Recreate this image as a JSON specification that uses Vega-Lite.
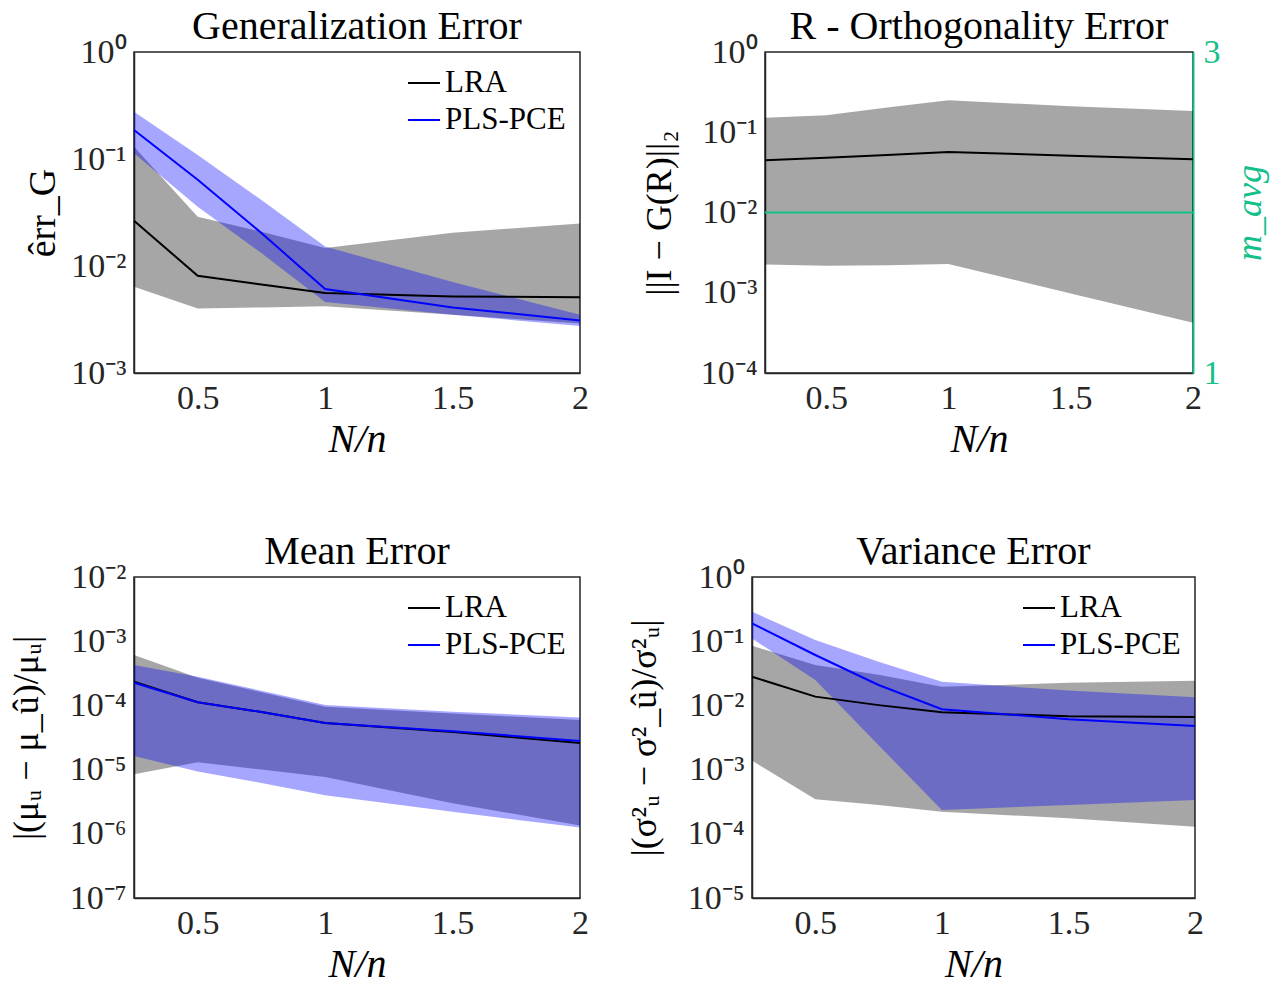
{
  "$schema": "https://vega.github.io/schema/vega-lite/v6.json",
  "background": "white",
  "padding": {"left": 7, "top": 6, "right": 5, "bottom": 0},
  "config": {
    "font": "Liberation Serif",
    "view": {"stroke": "#262626", "strokeWidth": 1.5},
    "axis": {
      "grid": false,
      "labelFont": "Liberation Serif",
      "titleFont": "Liberation Serif",
      "labelFontSize": 34,
      "titleFontSize": 36,
      "titleFontWeight": "normal",
      "labelColor": "#262626",
      "titleColor": "#000000",
      "domainColor": "#262626",
      "domainWidth": 1.5,
      "tickColor": "#262626",
      "tickSize": 0,
      "labelPadding": 8,
      "labelFlush": false,
      "labelOverlap": false
    },
    "axisX": {"titlePadding": 4, "titleFontSize": 40},
    "axisY": {"titlePadding": 8},
    "title": {"font": "Liberation Serif", "fontSize": 40, "fontWeight": "normal", "color": "#000000", "offset": -12, "anchor": "middle"},
    "legend": {
      "labelFont": "Liberation Serif",
      "labelFontSize": 31,
      "labelColor": "#000000",
      "symbolType": "stroke",
      "symbolStrokeWidth": 2,
      "symbolSize": 1024,
      "labelOffset": 4,
      "rowPadding": 5
    }
  },
  "datasets": {
    "gen": [
      {"x": 0.25, "method": "LRA", "lo": 0.0064, "mid": 0.0265, "hi": 0.130},
      {"x": 0.5, "method": "LRA", "lo": 0.0040, "mid": 0.0081, "hi": 0.0289},
      {"x": 0.75, "method": "LRA", "lo": 0.0041, "mid": 0.0067, "hi": 0.0209},
      {"x": 1, "method": "LRA", "lo": 0.0042, "mid": 0.0056, "hi": 0.0147},
      {"x": 1.5, "method": "LRA", "lo": 0.0035, "mid": 0.0052, "hi": 0.0204},
      {"x": 2, "method": "LRA", "lo": 0.0029, "mid": 0.0051, "hi": 0.025},
      {"x": 0.25, "method": "PLS-PCE", "lo": 0.113, "mid": 0.187, "hi": 0.277},
      {"x": 0.5, "method": "PLS-PCE", "lo": 0.0358, "mid": 0.064, "hi": 0.109},
      {"x": 0.75, "method": "PLS-PCE", "lo": 0.0132, "mid": 0.0203, "hi": 0.0414},
      {"x": 1, "method": "PLS-PCE", "lo": 0.0046, "mid": 0.0061, "hi": 0.0152},
      {"x": 1.5, "method": "PLS-PCE", "lo": 0.0035, "mid": 0.0041, "hi": 0.0071},
      {"x": 2, "method": "PLS-PCE", "lo": 0.00275, "mid": 0.0031, "hi": 0.0035}
    ],
    "orth": [
      {"x": 0.25, "method": "LRA", "lo": 0.00225, "mid": 0.0448, "hi": 0.152, "m": 2},
      {"x": 0.5, "method": "LRA", "lo": 0.00217, "mid": 0.048, "hi": 0.163, "m": 2},
      {"x": 0.75, "method": "LRA", "lo": 0.0022, "mid": 0.052, "hi": 0.203, "m": 2},
      {"x": 1, "method": "LRA", "lo": 0.00228, "mid": 0.0569, "hi": 0.25, "m": 2},
      {"x": 1.5, "method": "LRA", "lo": 0.00098, "mid": 0.051, "hi": 0.211, "m": 2},
      {"x": 2, "method": "LRA", "lo": 0.000423, "mid": 0.046, "hi": 0.184, "m": 2}
    ],
    "mean": [
      {"x": 0.25, "method": "LRA", "lo": 0.0000085, "mid": 0.000234, "hi": 0.00061},
      {"x": 0.5, "method": "LRA", "lo": 0.000013, "mid": 0.000112, "hi": 0.00027},
      {"x": 0.75, "method": "LRA", "lo": 0.00001, "mid": 0.000079, "hi": 0.00016},
      {"x": 1, "method": "LRA", "lo": 0.0000077, "mid": 0.000053, "hi": 0.000095},
      {"x": 1.5, "method": "LRA", "lo": 0.000003, "mid": 0.0000385, "hi": 0.000075},
      {"x": 2, "method": "LRA", "lo": 0.00000135, "mid": 0.000026, "hi": 0.000059},
      {"x": 0.25, "method": "PLS-PCE", "lo": 0.0000163, "mid": 0.000225, "hi": 0.000426},
      {"x": 0.5, "method": "PLS-PCE", "lo": 0.0000093, "mid": 0.000112, "hi": 0.00028},
      {"x": 0.75, "method": "PLS-PCE", "lo": 0.0000062, "mid": 0.000079, "hi": 0.000169},
      {"x": 1, "method": "PLS-PCE", "lo": 0.000004, "mid": 0.000053, "hi": 0.000101},
      {"x": 1.5, "method": "PLS-PCE", "lo": 0.0000022, "mid": 0.0000395, "hi": 0.0000797},
      {"x": 2, "method": "PLS-PCE", "lo": 0.00000125, "mid": 0.000028, "hi": 0.000065}
    ],
    "var": [
      {"x": 0.25, "method": "LRA", "lo": 0.00138, "mid": 0.028, "hi": 0.085},
      {"x": 0.5, "method": "LRA", "lo": 0.000344, "mid": 0.0137, "hi": 0.0426},
      {"x": 0.75, "method": "LRA", "lo": 0.00028, "mid": 0.0101, "hi": 0.03},
      {"x": 1, "method": "LRA", "lo": 0.00022, "mid": 0.0078, "hi": 0.0195},
      {"x": 1.5, "method": "LRA", "lo": 0.000175, "mid": 0.0068, "hi": 0.0225},
      {"x": 2, "method": "LRA", "lo": 0.000129, "mid": 0.0066, "hi": 0.0243},
      {"x": 0.25, "method": "PLS-PCE", "lo": 0.11, "mid": 0.19, "hi": 0.288},
      {"x": 0.5, "method": "PLS-PCE", "lo": 0.0249, "mid": 0.061, "hi": 0.104},
      {"x": 0.75, "method": "PLS-PCE", "lo": 0.0024, "mid": 0.0208, "hi": 0.048},
      {"x": 1, "method": "PLS-PCE", "lo": 0.000235, "mid": 0.0087, "hi": 0.0234},
      {"x": 1.5, "method": "PLS-PCE", "lo": 0.00028, "mid": 0.0061, "hi": 0.017},
      {"x": 2, "method": "PLS-PCE", "lo": 0.000336, "mid": 0.00478, "hi": 0.0134}
    ]
  },
  "bounds": "flush",
  "spacing": 525,
  "resolve": {"scale": {"color": "independent"}, "legend": {"color": "independent"}},
  "vconcat": [
    {
      "bounds": "flush",
      "spacing": 185,
      "resolve": {"scale": {"color": "independent"}, "legend": {"color": "independent"}},
      "hconcat": [
        {
          "width": 446, "height": 321,
          "title": "Generalization Error",
          "data": {"name": "gen"},
          "encoding": {
            "x": {"field": "x", "type": "quantitative", "scale": {"domain": [0.25, 2], "nice": false, "zero": false},
                  "axis": {"values": [0.5, 1, 1.5, 2], "format": "~g", "title": "N/n", "titleFontStyle": "italic"}}
          },
          "layer": [
            {
              "mark": {"type": "area", "fillOpacity": 0.35, "strokeWidth": 0},
              "encoding": {
                "y": {"field": "lo", "type": "quantitative", "scale": {"type": "log", "domain": [0.001, 1], "nice": false},
                      "axis": {"values": [1, 0.1, 0.01, 0.001], "labelExpr": "'10' + ['⁰','⁻¹','⁻²','⁻³','⁻⁴','⁻⁵','⁻⁶','⁻⁷'][-round(log(datum.value)/LN10)]", "title": "êrr_G", "titleFontSize": 38}},
                "y2": {"field": "hi"},
                "detail": {"field": "method"},
                "fill": {"condition": {"test": "datum.method === 'LRA'", "value": "#000000"}, "value": "#0000ff"}
              }
            },
            {
              "mark": {"type": "line", "strokeWidth": 2},
              "encoding": {
                "y": {"field": "mid", "type": "quantitative"},
                "color": {"field": "method", "type": "nominal", "scale": {"domain": ["LRA", "PLS-PCE"], "range": ["#000000", "#0000ff"]},
                          "legend": {"title": null, "orient": "top-right", "offset": 14}}
              }
            }
          ]
        },
        {
          "width": 428, "height": 321,
          "title": "R - Orthogonality Error",
          "data": {"name": "orth"},
          "encoding": {
            "x": {"field": "x", "type": "quantitative", "scale": {"domain": [0.25, 2], "nice": false, "zero": false},
                  "axis": {"values": [0.5, 1, 1.5, 2], "format": "~g", "title": "N/n", "titleFontStyle": "italic"}}
          },
          "layer": [
            {
              "layer": [
                {
                  "mark": {"type": "area", "fillOpacity": 0.35, "strokeWidth": 0, "color": "#000000"},
                  "encoding": {
                    "y": {"field": "lo", "type": "quantitative", "scale": {"type": "log", "domain": [0.0001, 1], "nice": false},
                          "axis": {"values": [1, 0.1, 0.01, 0.001, 0.0001], "labelExpr": "'10' + ['⁰','⁻¹','⁻²','⁻³','⁻⁴','⁻⁵','⁻⁶','⁻⁷'][-round(log(datum.value)/LN10)]", "title": "||I − G(R)||₂", "titlePadding": 22}},
                    "y2": {"field": "hi"}
                  }
                },
                {
                  "mark": {"type": "line", "strokeWidth": 2, "color": "#000000"},
                  "encoding": {"y": {"field": "mid", "type": "quantitative"}}
                }
              ]
            },
            {
              "mark": {"type": "line", "strokeWidth": 2, "color": "#14c08a"},
              "encoding": {
                "y": {"field": "m", "type": "quantitative", "scale": {"domain": [1, 3], "nice": false, "zero": false},
                      "axis": {"orient": "right", "values": [1, 2, 3], "format": "d", "title": "m_avg", "titleFontStyle": "italic", "titleAngle": 270,
                               "labelPadding": 10, "titlePadding": 48,
                               "labelColor": "#14c08a", "titleColor": "#14c08a", "domainColor": "#14c08a", "tickColor": "#14c08a", "domainWidth": 2}}
              }
            }
          ],
          "resolve": {"scale": {"y": "independent"}, "axis": {"y": "independent"}}
        }
      ]
    },
    {
      "bounds": "flush",
      "spacing": 172,
      "resolve": {"scale": {"color": "independent"}, "legend": {"color": "independent"}},
      "hconcat": [
        {
          "width": 446, "height": 321,
          "title": "Mean Error",
          "data": {"name": "mean"},
          "encoding": {
            "x": {"field": "x", "type": "quantitative", "scale": {"domain": [0.25, 2], "nice": false, "zero": false},
                  "axis": {"values": [0.5, 1, 1.5, 2], "format": "~g", "title": "N/n", "titleFontStyle": "italic"}}
          },
          "layer": [
            {
              "mark": {"type": "area", "fillOpacity": 0.35, "strokeWidth": 0},
              "encoding": {
                "y": {"field": "lo", "type": "quantitative", "scale": {"type": "log", "domain": [0.0000001, 0.01], "nice": false},
                      "axis": {"values": [0.01, 0.001, 0.0001, 0.00001, 0.000001, 0.0000001], "labelExpr": "'10' + ['⁰','⁻¹','⁻²','⁻³','⁻⁴','⁻⁵','⁻⁶','⁻⁷'][-round(log(datum.value)/LN10)]", "title": "|(μᵤ − μ_û)/μᵤ|", "titlePadding": 24}},
                "y2": {"field": "hi"},
                "detail": {"field": "method"},
                "fill": {"condition": {"test": "datum.method === 'LRA'", "value": "#000000"}, "value": "#0000ff"}
              }
            },
            {
              "mark": {"type": "line", "strokeWidth": 2},
              "encoding": {
                "y": {"field": "mid", "type": "quantitative"},
                "color": {"field": "method", "type": "nominal", "scale": {"domain": ["LRA", "PLS-PCE"], "range": ["#000000", "#0000ff"]},
                          "legend": {"title": null, "orient": "top-right", "offset": 14}}
              }
            }
          ]
        },
        {
          "width": 443, "height": 321,
          "title": "Variance Error",
          "data": {"name": "var"},
          "encoding": {
            "x": {"field": "x", "type": "quantitative", "scale": {"domain": [0.25, 2], "nice": false, "zero": false},
                  "axis": {"values": [0.5, 1, 1.5, 2], "format": "~g", "title": "N/n", "titleFontStyle": "italic"}}
          },
          "layer": [
            {
              "mark": {"type": "area", "fillOpacity": 0.35, "strokeWidth": 0},
              "encoding": {
                "y": {"field": "lo", "type": "quantitative", "scale": {"type": "log", "domain": [0.00001, 1], "nice": false},
                      "axis": {"values": [1, 0.1, 0.01, 0.001, 0.0001, 0.00001], "labelExpr": "'10' + ['⁰','⁻¹','⁻²','⁻³','⁻⁴','⁻⁵','⁻⁶','⁻⁷'][-round(log(datum.value)/LN10)]", "title": "|(σ²ᵤ − σ²_û)/σ²ᵤ|", "titlePadding": 24}},
                "y2": {"field": "hi"},
                "detail": {"field": "method"},
                "fill": {"condition": {"test": "datum.method === 'LRA'", "value": "#000000"}, "value": "#0000ff"}
              }
            },
            {
              "mark": {"type": "line", "strokeWidth": 2},
              "encoding": {
                "y": {"field": "mid", "type": "quantitative"},
                "color": {"field": "method", "type": "nominal", "scale": {"domain": ["LRA", "PLS-PCE"], "range": ["#000000", "#0000ff"]},
                          "legend": {"title": null, "orient": "top-right", "offset": 14}}
              }
            }
          ]
        }
      ]
    }
  ]
}
